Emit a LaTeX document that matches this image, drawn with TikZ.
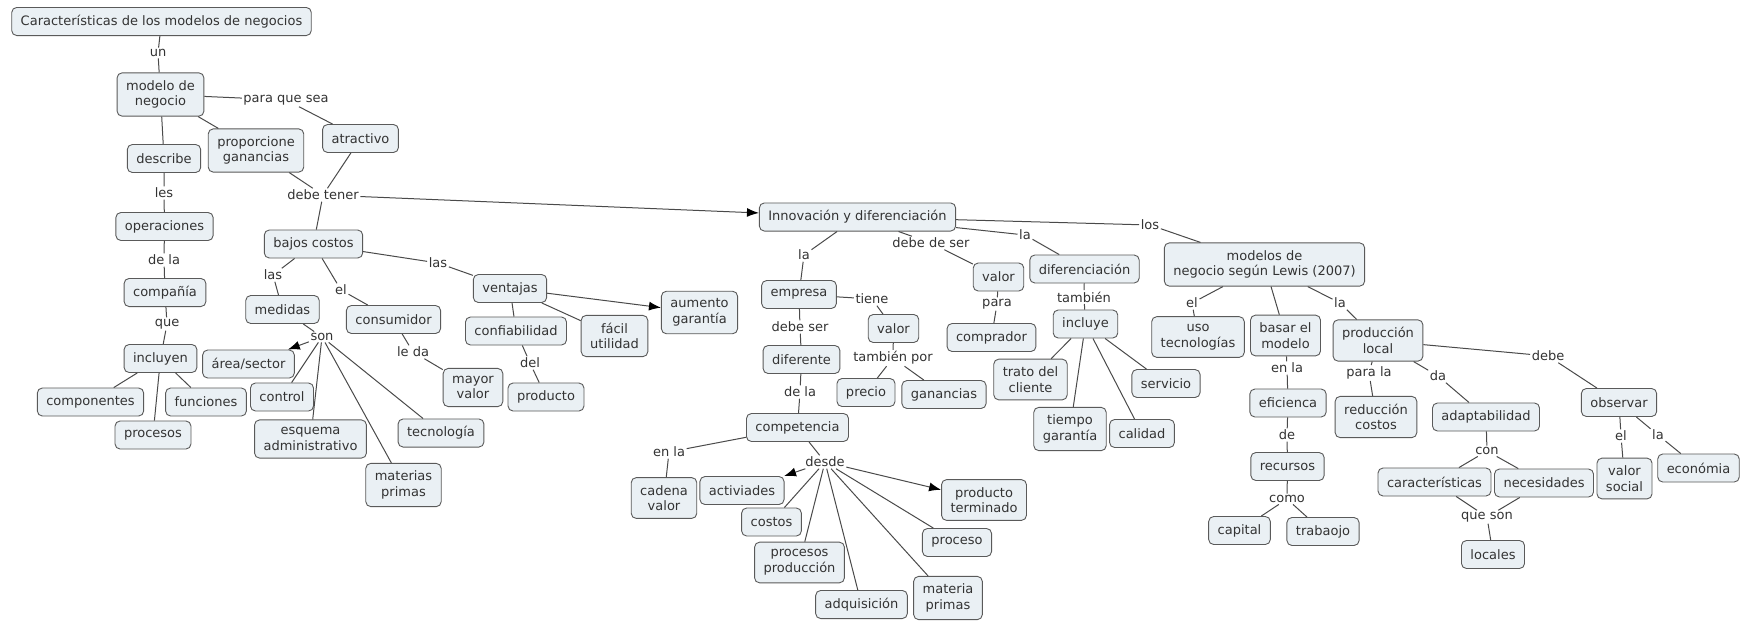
\documentclass[tikz,border=0pt]{standalone}
\usepackage{fontspec}
\setmainfont{DejaVu Sans}
\usetikzlibrary{arrows.meta}
\definecolor{boxfill}{HTML}{EAF0F4}
\definecolor{boxline}{HTML}{5A5A5A}
\definecolor{linkc}{HTML}{4A4A4A}
\definecolor{txt}{HTML}{333333}
\begin{document}
\begin{tikzpicture}[x=1pt,y=-1pt,
  concept/.style={draw=boxline, fill=boxfill, rounded corners=5pt, line width=0.9pt,
    inner xsep=9pt, inner ysep=7.5pt, minimum height=28pt, align=center,
    font=\fontsize{13}{15.7}\selectfont, text=txt},
  lbl/.style={inner sep=1.5pt, font=\fontsize{13}{15.7}\selectfont, text=txt},
  conn/.style={draw=linkc, line width=1pt},
  arr/.style={conn, -{Latex[length=12pt,width=9pt,color=black]}}]
\useasboundingbox (0,0) rectangle (1749,625);
\fill[white] (0,0) rectangle (1749,625);

% concepts
\node[concept] (title) at (161.5,21.5) {Características de los modelos de negocios};
\node[concept] (modelo) at (160.5,94.5) {modelo de\\negocio};
\node[concept] (atractivo) at (360.5,138.5) {atractivo};
\node[concept] (propor) at (256,150.5) {proporcione\\ganancias};
\node[concept] (describe) at (164,158.5) {describe};
\node[concept] (operac) at (164.5,226.5) {operaciones};
\node[concept] (compania) at (165,292.5) {compañía};
\node[concept] (incluyen) at (160.5,358.5) {incluyen};
\node[concept] (componentes) at (90.5,402) {componentes};
\node[concept] (procesos) at (153,435) {procesos};
\node[concept] (funciones) at (206,402) {funciones};
\node[concept] (bajos) at (313.5,244) {bajos costos};
\node[concept] (medidas) at (282.5,309.5) {medidas};
\node[concept] (area) at (248.5,364) {área/sector};
\node[concept] (control) at (282,397) {control};
\node[concept] (esquema) at (310.5,439) {esquema\\administrativo};
\node[concept] (materias) at (403.5,485) {materias\\primas};
\node[concept] (tecno) at (441,433) {tecnología};
\node[concept] (consumidor) at (393.5,319.5) {consumidor};
\node[concept] (mayor) at (473,387.5) {mayor\\valor};
\node[concept] (ventajas) at (510,288.5) {ventajas};
\node[concept] (confiab) at (516,331) {confiabilidad};
\node[concept] (producto) at (546,397) {producto};
\node[concept] (facil) at (614.5,336) {fácil\\utilidad};
\node[concept] (aumento) at (699.5,312.5) {aumento\\garantía};
\node[concept] (innov) at (857.5,217) {Innovación y diferenciación};
\node[concept] (empresa) at (799,294.5) {empresa};
\node[concept] (valorA) at (893.5,328.5) {valor};
\node[concept] (precio) at (866,392.5) {precio};
\node[concept] (ganancias) at (944,394.5) {ganancias};
\node[concept] (diferente) at (801.5,359.5) {diferente};
\node[concept] (competencia) at (797.5,427.5) {competencia};
\node[concept] (cadena) at (664,498) {cadena\\valor};
\node[concept] (activ) at (742,490.5) {activiades};
\node[concept] (costos) at (771.5,522) {costos};
\node[concept] (procprod) at (799.5,562.5) {procesos\\producción};
\node[concept] (adquis) at (861.5,604.5) {adquisición};
\node[concept] (materia) at (948,598) {materia\\primas};
\node[concept] (proceso) at (957,542.5) {proceso};
\node[concept] (prodterm) at (984,500) {producto\\terminado};
\node[concept] (valorB) at (998.5,277) {valor};
\node[concept] (comprador) at (991.5,337.5) {comprador};
\node[concept] (difer) at (1084.5,269) {diferenciación};
\node[concept] (incluye) at (1085.5,324) {incluye};
\node[concept] (trato) at (1030.5,379.5) {trato del\\cliente};
\node[concept] (tiempo) at (1070,429) {tiempo\\garantía};
\node[concept] (calidad) at (1142,433.5) {calidad};
\node[concept] (servicio) at (1166,383.5) {servicio};
\node[concept] (lewis) at (1264.5,264.5) {modelos de\\negocio según Lewis (2007)};
\node[concept] (uso) at (1198,337) {uso\\tecnologías};
\node[concept] (basar) at (1285.5,335.5) {basar el\\modelo};
\node[concept] (eficienca) at (1288,403) {eficienca};
\node[concept] (recursos) at (1287.5,466.5) {recursos};
\node[concept] (capital) at (1239.5,530.5) {capital};
\node[concept] (trabaojo) at (1323,531.5) {trabaojo};
\node[concept] (prodlocal) at (1378,340.5) {producción\\local};
\node[concept] (reduccion) at (1376,417) {reducción\\costos};
\node[concept] (adapt) at (1486,417) {adaptabilidad};
\node[concept] (caract) at (1434.5,482) {características};
\node[concept] (necesid) at (1544,483) {necesidades};
\node[concept] (locales) at (1493,554.5) {locales};
\node[concept] (observar) at (1619,402.5) {observar};
\node[concept] (valsoc) at (1624.5,478.5) {valor\\social};
\node[concept] (economia) at (1698.5,468) {económia};

% linking phrases
\node[lbl] (l_un) at (158,53) {un};
\node[lbl] (l_paraq) at (286,100) {para que sea};
\node[lbl] (l_debetener) at (323,195) {debe tener};
\node[lbl] (l_les) at (164,193) {les};
\node[lbl] (l_dela) at (164,260) {de la};
\node[lbl] (l_que) at (167,324) {que};
\node[lbl] (l_las1) at (273,275) {las};
\node[lbl] (l_son) at (322,337) {son};
\node[lbl] (l_el1) at (341,290) {el};
\node[lbl] (l_leda) at (413,352) {le da};
\node[lbl] (l_las2) at (438,263) {las};
\node[lbl] (l_del) at (530,363) {del};
\node[lbl] (l_la1) at (804,255) {la};
\node[lbl] (l_tiene) at (872,299) {tiene};
\node[lbl] (l_tampor) at (893,358) {también por};
\node[lbl] (l_debeser) at (800,327) {debe ser};
\node[lbl] (l_dela2) at (800,392) {de la};
\node[lbl] (l_enla) at (669,452) {en la};
\node[lbl] (l_desde) at (825,462) {desde};
\node[lbl] (l_debedeser) at (931,243) {debe de ser};
\node[lbl] (l_para) at (997,304) {para};
\node[lbl] (l_la2) at (1025,235) {la};
\node[lbl] (l_tambien) at (1084,297) {también};
\node[lbl] (l_los) at (1150,225) {los};
\node[lbl] (l_el2) at (1192,303) {el};
\node[lbl] (l_enla2) at (1287,368) {en la};
\node[lbl] (l_de) at (1287,435) {de};
\node[lbl] (l_como) at (1287,499) {como};
\node[lbl] (l_la3) at (1340,303) {la};
\node[lbl] (l_parala) at (1369,373) {para la};
\node[lbl] (l_da) at (1438,376) {da};
\node[lbl] (l_con) at (1487,451) {con};
\node[lbl] (l_queson) at (1487,517) {que son};
\node[lbl] (l_debe) at (1548,356) {debe};
\node[lbl] (l_el3) at (1621,436) {el};
\node[lbl] (l_la4) at (1658,435) {la};

% connectors
\draw[conn] (title) -- (l_un) -- (modelo);
\draw[conn] (modelo) -- (l_paraq) -- (atractivo);
\draw[conn] (modelo) -- (propor);
\draw[conn] (propor) -- (l_debetener);
\draw[conn] (atractivo) -- (l_debetener);
\draw[conn] (l_debetener) -- (bajos);
\draw[arr] (l_debetener) -- (innov);
\draw[conn] (modelo) -- (describe);
\draw[conn] (describe) -- (l_les) -- (operac);
\draw[conn] (operac) -- (l_dela) -- (compania);
\draw[conn] (compania) -- (l_que) -- (incluyen);
\draw[conn] (incluyen) -- (componentes);
\draw[conn] (incluyen) -- (procesos);
\draw[conn] (incluyen) -- (funciones);
\draw[conn] (bajos) -- (l_las1) -- (medidas);
\draw[conn] (medidas) -- (l_son);
\draw[arr] (l_son) -- (area);
\draw[conn] (l_son) -- (control);
\draw[conn] (l_son) -- (esquema);
\draw[conn] (l_son) -- (materias);
\draw[conn] (l_son) -- (tecno);
\draw[conn] (bajos) -- (l_el1) -- (consumidor);
\draw[conn] (consumidor) -- (l_leda) -- (mayor);
\draw[conn] (bajos) -- (l_las2) -- (ventajas);
\draw[arr] (ventajas) -- (aumento);
\draw[conn] (ventajas) -- (confiab);
\draw[conn] (ventajas) -- (facil);
\draw[conn] (confiab) -- (l_del) -- (producto);
\draw[conn] (innov) -- (l_la1) -- (empresa);
\draw[conn] (empresa) -- (l_tiene) -- (valorA);
\draw[conn] (valorA) -- (l_tampor);
\draw[conn] (l_tampor) -- (precio);
\draw[conn] (l_tampor) -- (ganancias);
\draw[conn] (empresa) -- (l_debeser) -- (diferente);
\draw[conn] (diferente) -- (l_dela2) -- (competencia);
\draw[conn] (competencia) -- (l_enla) -- (cadena);
\draw[conn] (competencia) -- (l_desde);
\draw[arr] (l_desde) -- (activ);
\draw[conn] (l_desde) -- (costos);
\draw[conn] (l_desde) -- (procprod);
\draw[conn] (l_desde) -- (adquis);
\draw[conn] (l_desde) -- (materia);
\draw[conn] (l_desde) -- (proceso);
\draw[arr] (l_desde) -- (prodterm);
\draw[conn] (innov) -- (l_debedeser) -- (valorB);
\draw[conn] (valorB) -- (l_para) -- (comprador);
\draw[conn] (innov) -- (l_la2) -- (difer);
\draw[conn] (difer) -- (l_tambien) -- (incluye);
\draw[conn] (incluye) -- (trato);
\draw[conn] (incluye) -- (tiempo);
\draw[conn] (incluye) -- (calidad);
\draw[conn] (incluye) -- (servicio);
\draw[conn] (innov) -- (l_los) -- (lewis);
\draw[conn] (lewis) -- (l_el2) -- (uso);
\draw[conn] (lewis) -- (basar);
\draw[conn] (basar) -- (l_enla2) -- (eficienca);
\draw[conn] (eficienca) -- (l_de) -- (recursos);
\draw[conn] (recursos) -- (l_como);
\draw[conn] (l_como) -- (capital);
\draw[conn] (l_como) -- (trabaojo);
\draw[conn] (lewis) -- (l_la3) -- (prodlocal);
\draw[conn] (prodlocal) -- (l_parala) -- (reduccion);
\draw[conn] (prodlocal) -- (l_da) -- (adapt);
\draw[conn] (adapt) -- (l_con);
\draw[conn] (l_con) -- (caract);
\draw[conn] (l_con) -- (necesid);
\draw[conn] (caract) -- (l_queson);
\draw[conn] (necesid) -- (l_queson);
\draw[conn] (l_queson) -- (locales);
\draw[conn] (prodlocal) -- (l_debe) -- (observar);
\draw[conn] (observar) -- (l_el3) -- (valsoc);
\draw[conn] (observar) -- (l_la4) -- (economia);
\end{tikzpicture}
\end{document}
